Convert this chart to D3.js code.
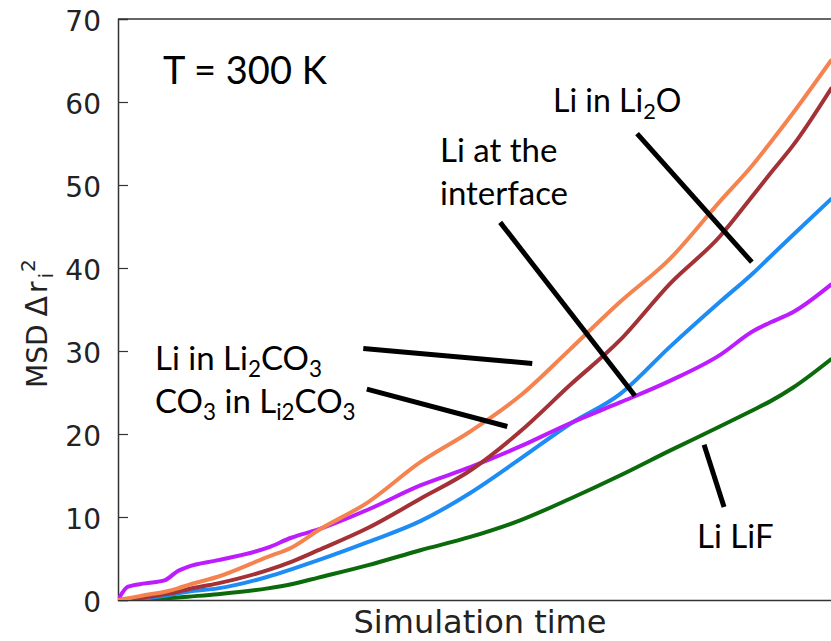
<!DOCTYPE html>
<html>
<head>
<meta charset="utf-8">
<script src="https://cdn.jsdelivr.net/npm/d3@7"></script>
<style>
  html, body { margin: 0; padding: 0; background: #fff; }
  svg { display: block; }
</style>
</head>
<body>
<svg id="chart" width="831" height="641"></svg>
<script>
// ---- data ----
const time = [0, 1.4, 3.8, 6.6, 8.4, 9.8, 14, 21, 24.3, 28.1, 35.1, 42.4, 49.4, 56.4, 63.4, 70.4, 77.4, 84.4, 89.1, 91.4, 94.7, 100];
const liInLi2CO3 = [0, 0.2, 0.6, 1.0, 1.4, 1.8, 2.8, 5.2, 6.3, 8.4, 11.8, 16.6, 20.3, 24.6, 30.2, 35.9, 41.1, 48.0, 52.5, 55.0, 58.7, 65.0];
const liInLi2O   = [0, 0.1, 0.3, 0.7, 1.0, 1.3, 2.0, 3.6, 4.6, 6.0, 8.7, 12.2, 15.6, 20.3, 25.9, 31.3, 38.1, 43.8, 48.8, 51.3, 54.8, 61.6];
const liInterface= [0, 0.05, 0.2, 0.5, 0.8, 1.0, 1.4, 2.8, 3.7, 4.8, 7.0, 9.5, 12.9, 17.0, 21.2, 24.8, 30.5, 35.9, 39.4, 41.3, 44.0, 48.3];
const co3InLi2CO3= [0, 1.6, 2.0, 2.4, 3.5, 4.0, 4.8, 6.3, 7.5, 8.5, 10.9, 13.8, 16.0, 18.5, 21.3, 23.8, 26.4, 29.5, 32.4, 33.4, 34.7, 38.0];
const liLiF      = [0, 0, 0.05, 0.2, 0.3, 0.4, 0.7, 1.4, 1.9, 2.7, 4.2, 6.0, 7.6, 9.6, 12.2, 15.0, 18.0, 20.9, 22.9, 23.9, 25.6, 29.0];
const seriesNames = ["Li in Li2CO3", "Li in Li2O", "Li at the interface", "CO3 in Li2CO3", "Li LiF"];
const seriesColors = ["#f5834f", "#a33135", "#1e8cf5", "#bd1cff", "#0b6a0b"];
const yTicks = [0, 10, 20, 30, 40, 50, 60, 70];
// annotation pointer lines in data units: [x1, y1, x2, y2]
const pointers = [
  [72.8, 56.2, 88.9, 40.7],
  [53.6, 45.5, 72.5, 24.6],
  [34.4, 30.3, 58.1, 28.5],
  [34.9, 25.4, 54.6, 20.9],
  [82.2, 18.7, 85.0, 11.2]
];

(function () {
const svg = d3.select("#chart");
const mLeft = 118, mTop = 19, mBottom = 600, mRight = 831;
const x = d3.scaleLinear().domain([0, 100]).range([mLeft, mRight]);
const y = d3.scaleLinear().domain([0, 70]).range([mBottom, mTop]);

svg.append("defs").append("clipPath").attr("id", "clip")
  .append("rect").attr("x", mLeft).attr("y", mTop).attr("width", mRight + 20 - mLeft).attr("height", mBottom - mTop);

const axisColor = "#333";
svg.append("line").attr("x1", mLeft).attr("x2", mRight + 20).attr("y1", mTop).attr("y2", mTop)
  .attr("stroke", axisColor).attr("stroke-width", 1.5);

const yAxis = d3.axisLeft(y).tickValues(yTicks).tickSize(-10).tickPadding(17).tickFormat(d3.format("d"));
const gy = svg.append("g").attr("transform", `translate(${mLeft},0)`).call(yAxis);
gy.select(".domain").attr("stroke", axisColor).attr("stroke-width", 1.5);
gy.selectAll(".tick line").attr("stroke", axisColor).attr("stroke-width", 1.2);
gy.selectAll(".tick text").attr("font-family", "DejaVu Sans").attr("font-size", 28).attr("fill", "#222").attr("dy", "0.42em");
gy.selectAll(".tick").filter(d => d === 70).select("line").remove();

const xAxis = d3.axisBottom(x).tickValues([]).tickSizeOuter(0);
const gx = svg.append("g").attr("transform", `translate(0,${mBottom})`).call(xAxis);
gx.select(".domain").attr("stroke", axisColor).attr("stroke-width", 1.5);

const allSeries = [liInLi2CO3, liInLi2O, liInterface, co3InLi2CO3, liLiF];
const line = d3.line().x((d, i) => x(time[i])).y(d => y(d)).curve(d3.curveMonotoneX);
const drawOrder = [4, 2, 3, 1, 0];
const gLines = svg.append("g").attr("clip-path", "url(#clip)");
drawOrder.forEach(k => {
  gLines.append("path").datum(allSeries[k])
    .attr("fill", "none").attr("stroke", seriesColors[k]).attr("stroke-width", 4)
    .attr("stroke-linejoin", "round").attr("stroke-linecap", "round")
    .attr("d", line);
});

svg.append("text").attr("x", 480).attr("y", 633).attr("text-anchor", "middle")
  .attr("font-family", "DejaVu Sans").attr("font-size", 32).attr("fill", "#222")
  .text("Simulation time");

const yl = svg.append("text").attr("transform", "translate(47,388) rotate(-90)")
  .attr("text-anchor", "start").attr("font-family", "DejaVu Sans").attr("font-size", 28).attr("fill", "#222");
yl.append("tspan").text("MSD");
yl.append("tspan").attr("dx", 8).attr("font-size", 30).text("Δ");
yl.append("tspan").attr("dx", 3).text("r");
yl.append("tspan").attr("font-size", 20).attr("dx", 3).attr("dy", 6).text("i");
yl.append("tspan").attr("font-size", 20).attr("dx", 1).attr("dy", -18).text("2");

svg.append("g").selectAll("line").data(pointers).join("line")
  .attr("x1", d => x(d[0])).attr("y1", d => y(d[1]))
  .attr("x2", d => x(d[2])).attr("y2", d => y(d[3]))
  .attr("stroke", "#000").attr("stroke-width", 5);

const annFont = "Lato";
function label(xp, yp, size, parts) {
  const t = svg.append("text").attr("x", xp).attr("y", yp)
    .attr("font-family", annFont).attr("font-size", size).attr("fill", "#000");
  parts.forEach(p => {
    const s = t.append("tspan").text(p[0]);
    if (p[1] === "sub") { s.attr("font-size", size * 0.68).attr("dy", size * 0.22); }
    if (p[1] === "base") { s.attr("dy", -size * 0.22); }
  });
  return t;
}
label(163, 84, 38, [["T = 300 K"]]);
label(553, 112, 32, [["Li in Li"], ["2", "sub"], ["O", "base"]]);
label(440, 162, 33, [["Li at the"]]);
label(440, 205, 33, [["interface"]]);
label(155, 370, 33, [["Li in Li"], ["2", "sub"], ["CO", "base"], ["3", "sub"]]);
label(155, 413, 33, [["CO"], ["3", "sub"], [" in L", "base"], ["i2", "sub"], ["CO", "base"], ["3", "sub"]]);
label(697, 548, 33, [["Li LiF"]]);
})();
</script>
</body>
</html>
